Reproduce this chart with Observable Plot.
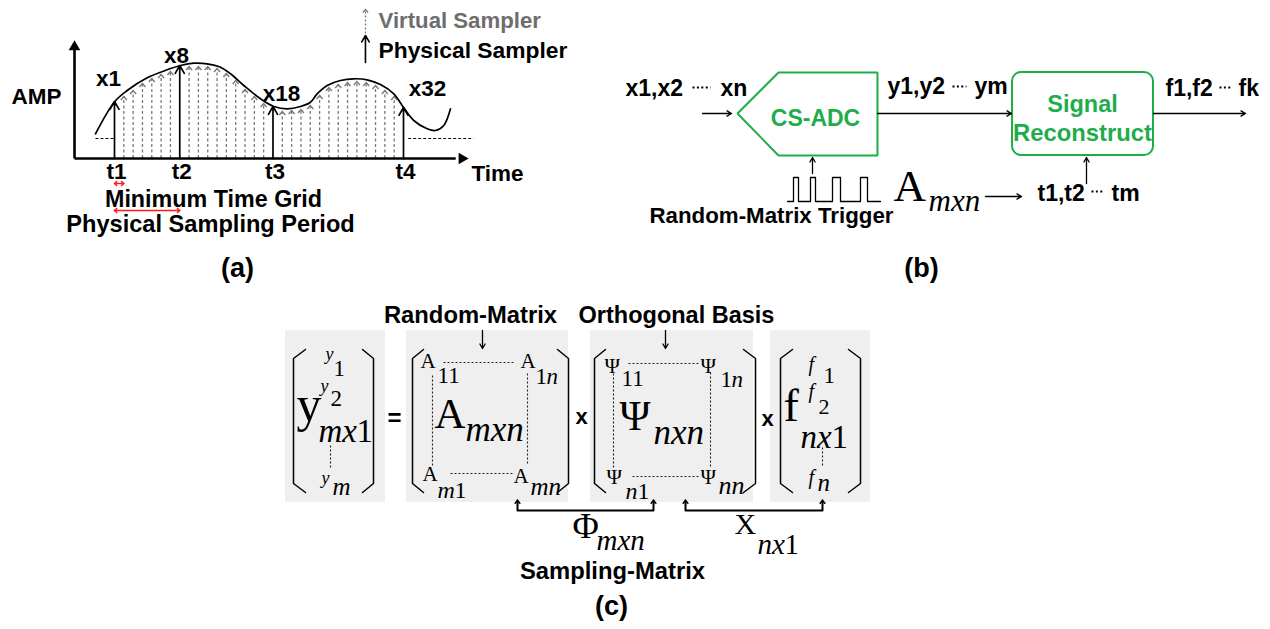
<!DOCTYPE html>
<html><head><meta charset="utf-8">
<script src="https://cdn.jsdelivr.net/npm/d3@7"></script>
<script src="https://cdn.jsdelivr.net/npm/@observablehq/plot@0.6"></script>
<style>
body{margin:0;background:#fff;}
#wrap{position:relative;width:1270px;height:629px;overflow:hidden;background:#fff;}
#wrap svg{position:absolute;left:0;top:0;background:transparent;}
</style></head><body><div id="wrap"></div>
<script>
// ================= DATA =================
// Panel (a): signal curve (time in minimum-grid units, amplitude in arbitrary units)
const curveTime = [-1.04,1.03,2.36,4.51,6.65,8.08,9.51,10.94,12.37,13.44,14.87,16.66,18.09,19.52,20.95,22.02,22.74,23.81,25.24,26.67,28.1,29.53,30.96,32.03,33.1,34.54,35.43,36.32,37.04];
const curveAmp  = [24.7,57,68,80.7,88.7,93,95.3,94.7,91.3,84.7,73,59.7,52,49.7,52,56.3,64.7,73,78,79.7,78.7,74,64.7,50.7,38,29.7,28,33,49.7];
// sample grid index and sampled amplitude (arrow tips)
const sampleIndex = [1,2,3,4,5,6,7,8,9,10,11,12,13,14,15,16,17,18,19,20,21,22,23,24,25,26,27,28,29,30,31,32];
const sampleAmp   = [57,62,68,75,80,84,87,93,92,92,92,90,85,78,69,62,55,52,47,48,49,53,63,71,74,76,77,76,73,68,62,51];
const physicalIndex  = [1,8,18,32];
const physicalLabels = ["x1","x8","x18","x32"];
const timeLabels     = ["t1","t2","t3","t4"];
const panelATexts = ["AMP","Time","Minimum Time Grid","Physical Sampling Period","(a)","Virtual Sampler","Physical Sampler"];
const thresholdAmp = 20;
// Panel (b): random-matrix trigger pulse train (edge times, levels)
const triggerEdges  = [787,793,798,810,815,832,840,860,867,880];
const triggerLevels = [0,1,0,1,0,1,0,1,0,0];
const seqFirst = ["x1,x2","y1,y2","f1,f2","t1,t2"];
const seqLast  = ["xn","ym","fk","tm"];
const panelBTexts = ["Random-Matrix Trigger","(b)"];
const blockNames  = ["CS-ADC","Signal","Reconstruct"];
const panelCTexts = ["Random-Matrix","Orthogonal Basis","=","x","x","Sampling-Matrix","(c)"];

// ================= STYLE / LAYOUT =================
const green = "#1fad4b";
const SANS = "'Liberation Sans', Arial, sans-serif";
const SERIF = "'Liberation Serif', 'Times New Roman', serif";
const chevron = {draw(ctx, size){const s=Math.sqrt(size/Math.PI); ctx.moveTo(-s, s*1.15); ctx.lineTo(0,0); ctx.lineTo(s, s*1.15);}};

// ---------- Panel (a) : own scales (time grid index, amplitude) ----------
const samples = sampleIndex.map((k,i)=>({k, a: sampleAmp[i]}));
const virtual = samples.filter(d=>!physicalIndex.includes(d.k));
const physical = samples.filter(d=>physicalIndex.includes(d.k)).map((d,i)=>({...d, label: physicalLabels[i], t: timeLabels[i]}));
const curve = curveTime.map((k,i)=>({k, a: curveAmp[i]}));
// layout for panel (a) annotations, in the panel's own units
const LA = {
  axisK: -3.29, axisTopLine: 112, axisHead: 111.5, xEndLine: 37.6, xHead: 38.27,
  physLabelPos: [[0.36,73],[7.65,96],[18.91,58],[34.57,63]],
  tLabelAmp: -20,
  textPos: [[-7.37,55,"middle",22.5],[42.08,-22,"middle",22.5],[11.62,-48,"middle",23.3],[11.3,-73,"middle",23.6],[14.2,-118,"middle",27],[29.32,131,"start",22.2],[29.32,101,"start",22.8]],
  legendK: 27.92, legendVirtual: [125,149], legendPhysical: [96,123],
  minGrid: {k1:1, k2:2, a:-25}, period: {k1:1, k2:8, a:-52},
  dashLeft: [-1.04, 0.9], dashRight: [32.5, 39.5]
};
const aTexts = panelATexts.map((t,i)=>({t, x: LA.textPos[i][0], y: LA.textPos[i][1], anchor: LA.textPos[i][2], size: LA.textPos[i][3], fill: t==="Virtual Sampler"?"#6e6e6e":"black"}));
const redArrows = [LA.minGrid, LA.period];

const plotA = Plot.plot({
  width: 560, height: 290, margin: 0,
  x: {domain: [1,32], range: [114,403], axis: null},
  y: {domain: [0,118], range: [158,40], axis: null},
  style: {background: "transparent", overflow: "visible"},
  marks: [
    Plot.link([LA.dashLeft, LA.dashRight], {x1: d=>d[0], x2: d=>d[1], y1: thresholdAmp, y2: thresholdAmp, stroke: "black", strokeWidth: 1, strokeDasharray: "3,2"}),
    Plot.ruleX(virtual, {x: "k", y1: 0, y2: "a", stroke: "#7a7a7a", strokeWidth: 1.3, strokeDasharray: "3,2.5"}),
    Plot.dot(virtual, {x: "k", y: "a", symbol: chevron, r: 3, fill: "none", stroke: "#7a7a7a", strokeWidth: 1.4}),
    Plot.line(curve, {x: "k", y: "a", curve: "catmull-rom", stroke: "black", strokeWidth: 1.7}),
    Plot.arrow(physical, {x1: "k", x2: "k", y1: 0, y2: "a", stroke: "black", strokeWidth: 1.7, headLength: 8}),
    Plot.link([0], {x1: LA.axisK, x2: LA.axisK, y1: 0, y2: LA.axisTopLine, stroke: "black", strokeWidth: 2.6}),
    Plot.link([0], {x1: LA.axisK, x2: LA.xEndLine, y1: 0, y2: 0, stroke: "black", strokeWidth: 2.6}),
    Plot.dot([0], {x: LA.axisK, y: LA.axisHead, symbol: "triangle", r: 4.3, fill: "black"}),
    Plot.dot([0], {x: LA.xHead, y: 0, symbol: "triangle", r: 4.3, fill: "black", rotate: 90}),
    Plot.link(redArrows, {x1: "k1", x2: "k2", y1: "a", y2: "a", stroke: "#ff1a1a", strokeWidth: 1.4}),
    Plot.dot(redArrows, {x: "k1", y: "a", symbol: chevron, r: 2.4, fill: "none", stroke: "#ff1a1a", strokeWidth: 1.4, rotate: -90}),
    Plot.dot(redArrows, {x: "k2", y: "a", symbol: chevron, r: 2.4, fill: "none", stroke: "#ff1a1a", strokeWidth: 1.4, rotate: 90}),
    Plot.link([0], {x1: LA.legendK, x2: LA.legendK, y1: LA.legendVirtual[0], y2: LA.legendVirtual[1], stroke: "#7a7a7a", strokeWidth: 1.3, strokeDasharray: "2,2"}),
    Plot.dot([0], {x: LA.legendK, y: LA.legendVirtual[1], symbol: chevron, r: 2.6, fill: "none", stroke: "#7a7a7a", strokeWidth: 1.3}),
    Plot.arrow([0], {x1: LA.legendK, x2: LA.legendK, y1: LA.legendPhysical[0], y2: LA.legendPhysical[1], stroke: "black", strokeWidth: 1.6, headLength: 7}),
    Plot.text(physical, {x: (d,i)=>LA.physLabelPos[i][0], y: (d,i)=>LA.physLabelPos[i][1], text: "label", fontFamily: SANS, fontWeight: "bold", fontSize: 22.5, textAnchor: "middle", lineAnchor: "bottom", fill: "black"}),
    Plot.text(physical, {x: "k", y: LA.tLabelAmp, dx: 2, text: "t", fontFamily: SANS, fontWeight: "bold", fontSize: 22.5, textAnchor: "middle", lineAnchor: "bottom", fill: "black"}),
    Plot.text(aTexts.filter(d=>d.anchor==="middle"), {x: "x", y: "y", text: "t", fontFamily: SANS, fontWeight: "bold", fontSize: d=>d.size, fill: "fill", textAnchor: "middle", lineAnchor: "bottom"}),
    Plot.text(aTexts.filter(d=>d.anchor==="start"), {x: "x", y: "y", text: "t", fontFamily: SANS, fontWeight: "bold", fontSize: d=>d.size, fill: d=>d.fill, textAnchor: "start", lineAnchor: "bottom"})
  ]
});

// ---------- Panels (b) and (c): page layout scale ----------
const pulse = triggerEdges.map((x,i)=>({x, level: triggerLevels[i]}));
const LB = {
  pulseBase: 201, pulseHeight: 24,
  pentagon: [[827,72],[877,72],[877,155],[778,155],[737,113],[778,72],[827,72]],
  srBox: {x1:1012, x2:1153, y1:72, y2:155},
  arrows: [[702,113,731,113],[812,173,812,157],[877,113,1011,113],[985,196,1021,196],[1086,183,1086,157],[1153,113,1245,113]],
  // sequence labels: [first start x, baseline, dots x1, dots x2, dots y, last start x]
  seq: [[625,95,692,710,87,720],[887,93,952,966,86,974],[1165,95,1219,1232,87,1238],[1037,200,1091,1104,191,1111]],
  seqSize: 23,
  texts: [[771,222,22.3],[921,276,27]],
  blocks: [[815,125,23],[1082,111,23.5],[1082,140,23.8]],
  mathRoman: [["A",893,200,45]],
  mathItalic: [["mxn",928,210,31]]
};
const LC = {
  boxes: [[285,385],[406,568],[590,753],[770,870]], boxTop: 330, boxBottom: 502,
  brackets: [[305,293],[362,373],[423,412],[557,568],[605,594],[743,755],[792,780],[848,860]], brTop: 349, brBottom: 492, brCut: 9,
  dotted: [[443,362,513,362],[432,375,432,467],[527,373,527,463],[450,473,513,473],[628,363,698,363],[613,373,613,467],[710,372,710,468],[632,476,698,476],[330,445,330,467],[822,447,822,465]],
  downArrows: [[482,330,482,348],[665,330,665,348]],
  unders: [[[517,500],[517,510],[653,510],[653,500]],[[685,500],[685,510],[822,510],[822,500]]],
  texts: [[470,322,23.8],[676,322,23.5],[394,425,24],[581,423,22],[767,425,22],[612,578,23.8],[611,614,27]],
  roman: [
    ["y",296,420,50],["1",333,375,23],["2",330,405,23],["1",356,441,33],
    ["A",420,367,21],["11",437,382,23],["A",520,367,21],["1",535,383,23],["A",434,427,43],["A",422,480,21],["1",454,497,24],["A",513,482,21],
    ["Ψ",604,372,21],["11",621,385,23],["Ψ",700,372,21],["1",720,386,23],["Ψ",619,429,42],["Ψ",606,483,21],["1",637,498,24],["Ψ",700,483,21],
    ["1",823,382,23],["f",783,420,46],["2",818,413,22],["1",831,447,33],
    ["Φ",572,537,36],["X",734,533,30],["1",784,553,29]
  ],
  italic: [
    ["y",325,359,18],["y",320,391,18],["mx",318,441,33],["y",321,483,18],["m",332,494,25],
    ["n",546,383,23],["mxn",465,440,35],["m",437,497,24],["mn",530,494,25],
    ["n",731,386,23],["nxn",653,443,35],["n",625,498,24],["nn",718,493,26],
    ["f",808,370,20],["f",808,397,20],["nx",800,447,33],["f",808,483,20],["n",817,490,25],
    ["mxn",596,549,29],["nx",757,553,29]
  ]
};
const seqLabels = seqFirst.map((t,i)=>({first: t, last: seqLast[i], x: LB.seq[i][0], y: LB.seq[i][1], d1: LB.seq[i][2], d2: LB.seq[i][3], dy: LB.seq[i][4], xl: LB.seq[i][5]}));
const bTexts = panelBTexts.map((t,i)=>({t, x: LB.texts[i][0], y: LB.texts[i][1], size: LB.texts[i][2]}));
const blockTexts = blockNames.map((t,i)=>({t, x: LB.blocks[i][0], y: LB.blocks[i][1], size: LB.blocks[i][2]}));
const cTexts = panelCTexts.map((t,i)=>({t, x: LC.texts[i][0], y: LC.texts[i][1], size: LC.texts[i][2]}));
const bracketPts = LC.brackets.flatMap(([xi,xo],j)=>[
  {x:xi,y:LC.brTop,z:j},{x:xo,y:LC.brTop+LC.brCut,z:j},{x:xo,y:LC.brBottom-LC.brCut,z:j},{x:xi,y:LC.brBottom,z:j}]);
const underPts = LC.unders.flatMap((pts,j)=>pts.map(([x,y])=>({x,y,z:j})));
const underTips = LC.unders.flatMap(pts=>[pts[0],pts[3]]);
const romanAll = LB.mathRoman.concat(LC.roman);
const italicAll = LB.mathItalic.concat(LC.italic);

const plotBC = Plot.plot({
  width: 1270, height: 629, margin: 0,
  x: {domain: [0,1270], range: [0,1270], axis: null},
  y: {domain: [0,629], range: [0,629], axis: null},
  style: {background: "white"},
  marks: [
    // ---- (b) ----
    Plot.line(LB.pentagon, {x: d=>d[0], y: d=>d[1], stroke: green, strokeWidth: 2, strokeLinejoin: "miter"}),
    Plot.rect([0], {x1: LB.srBox.x1, x2: LB.srBox.x2, y1: LB.srBox.y1, y2: LB.srBox.y2, rx: 9, fill: "none", stroke: green, strokeWidth: 2}),
    Plot.arrow(LB.arrows, {x1: d=>d[0], y1: d=>d[1], x2: d=>d[2], y2: d=>d[3], stroke: "black", strokeWidth: 1.3, headLength: 6}),
    Plot.line(pulse, {x: "x", y: d=>LB.pulseBase - LB.pulseHeight*d.level, curve: "step-after", stroke: "black", strokeWidth: 1.3}),
    Plot.text(seqLabels, {x: "x", y: "y", text: "first", fontSize: LB.seqSize, fontFamily: SANS, fontWeight: "bold", textAnchor: "start", lineAnchor: "bottom", fill: "black"}),
    Plot.text(seqLabels, {x: "xl", y: "y", text: "last", fontSize: LB.seqSize, fontFamily: SANS, fontWeight: "bold", textAnchor: "start", lineAnchor: "bottom", fill: "black"}),
    Plot.link(seqLabels, {x1: "d1", x2: "d2", y1: "dy", y2: "dy", stroke: "black", strokeWidth: 2, strokeDasharray: "2,2.4"}),
    Plot.text(bTexts, {x: "x", y: "y", text: "t", fontSize: d=>d.size, fontFamily: SANS, fontWeight: "bold", textAnchor: "middle", lineAnchor: "bottom", fill: "black"}),
    Plot.text(blockTexts, {x: "x", y: "y", text: "t", fontSize: d=>d.size, fontFamily: SANS, fontWeight: "bold", textAnchor: "middle", lineAnchor: "bottom", fill: green}),
    // ---- (c) ----
    Plot.rect(LC.boxes, {x1: d=>d[0], x2: d=>d[1], y1: LC.boxTop, y2: LC.boxBottom, fill: "#efefef"}),
    Plot.line(bracketPts, {x: "x", y: "y", z: "z", stroke: "black", strokeWidth: 1.5}),
    Plot.link(LC.dotted, {x1: d=>d[0], y1: d=>d[1], x2: d=>d[2], y2: d=>d[3], stroke: "#222", strokeWidth: 1.1, strokeDasharray: "2,2"}),
    Plot.arrow(LC.downArrows, {x1: d=>d[0], y1: d=>d[1], x2: d=>d[2], y2: d=>d[3], stroke: "black", strokeWidth: 1.3, headLength: 6}),
    Plot.line(underPts, {x: "x", y: "y", z: "z", stroke: "black", strokeWidth: 2}),
    Plot.dot(underTips, {x: d=>d[0], y: d=>d[1], symbol: chevron, r: 2.8, fill: "none", stroke: "black", strokeWidth: 1.5}),
    Plot.text(cTexts, {x: "x", y: "y", text: "t", fontSize: d=>d.size, fontFamily: SANS, fontWeight: "bold", textAnchor: "middle", lineAnchor: "bottom", fill: "black"}),
    Plot.text(romanAll, {x: d=>d[1], y: d=>d[2], text: d=>d[0], fontSize: d=>d[3], fontFamily: SERIF, textAnchor: "start", lineAnchor: "bottom", fill: "black"}),
    Plot.text(italicAll, {x: d=>d[1], y: d=>d[2], text: d=>d[0], fontSize: d=>d[3], fontFamily: SERIF, fontStyle: "italic", textAnchor: "start", lineAnchor: "bottom", fill: "black"})
  ]
});

const wrap = document.getElementById("wrap");
wrap.appendChild(plotBC);
wrap.appendChild(plotA);
</script></body></html>
